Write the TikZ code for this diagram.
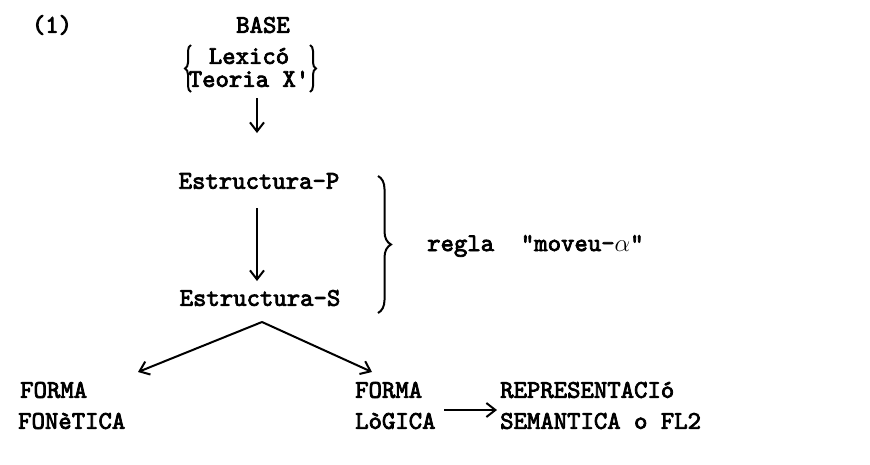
\documentclass[tikz,border=0pt]{standalone}
\usepackage{fontspec}
\newfontfamily\tw[Extension=.otf,FakeBold=3]{lmmono10-regular}
\usetikzlibrary{arrows.meta,decorations.pathreplacing}
\begin{document}
\begin{tikzpicture}[x=1pt,y=-1pt,
  txt/.style={font=\tw\fontsize{25.5}{27}\selectfont, inner sep=0pt},
  arr/.style={line width=2pt,-{Straight Barb[length=9pt,width=14pt,line width=2pt]}},
  brc/.style={line width=2pt,decorate}]
\useasboundingbox (0,0) rectangle (870,464);
\node[txt] (num) at (52,25) {(1)};
\node[txt] (base) at (263,25) {BASE};
\node[txt] (lex) at (249,56) {Lexicó};
\node[txt] (teo) at (249,79) {Teoria X'};
\draw[brc,decoration={brace,amplitude=6pt}] (191,92) -- (191,45);
\draw[brc,decoration={brace,amplitude=6pt}] (310,45) -- (310,92);
\node[txt] (ep) at (259,181) {Estructura-P};
\node[txt] (es) at (260,298) {Estructura-S};
\draw[brc,decoration={brace,amplitude=13pt}] (378,176) -- (378,313);
\node[txt,anchor=west] (regla) at (427,246) {regla\ \ "moveu-$\alpha$"};
\coordinate (a1s) at (257,98);
\coordinate (a1e) at (257,133);
\coordinate (a2s) at (257,208);
\coordinate (a2e) at (257,281);
\draw[arr] (a1s) -- (a1e);
\draw[arr] (a2s) -- (a2e);
\node[txt,anchor=west] (ff) at (20,390) {FORMA};
\node[txt,anchor=west] (fon) at (18,421) {FONèTICA};
\node[txt,anchor=west] (fl) at (355,390) {FORMA};
\node[txt,anchor=west] (log) at (355,421) {LòGICA};
\node[txt,anchor=west] (rep) at (500,390) {REPRESENTACIó};
\node[txt,anchor=west] (sem) at (500,421) {SEMANTICA o FL2};
\coordinate (fk) at (262,322);
\coordinate (fkl) at (138,372);
\coordinate (fkr) at (372,372);
\draw[arr] (fk) -- (fkl);
\draw[arr] (fk) -- (fkr);
\coordinate (a3s) at (444,410);
\coordinate (a3e) at (497,410);
\draw[arr] (a3s) -- (a3e);
\end{tikzpicture}
\end{document}
